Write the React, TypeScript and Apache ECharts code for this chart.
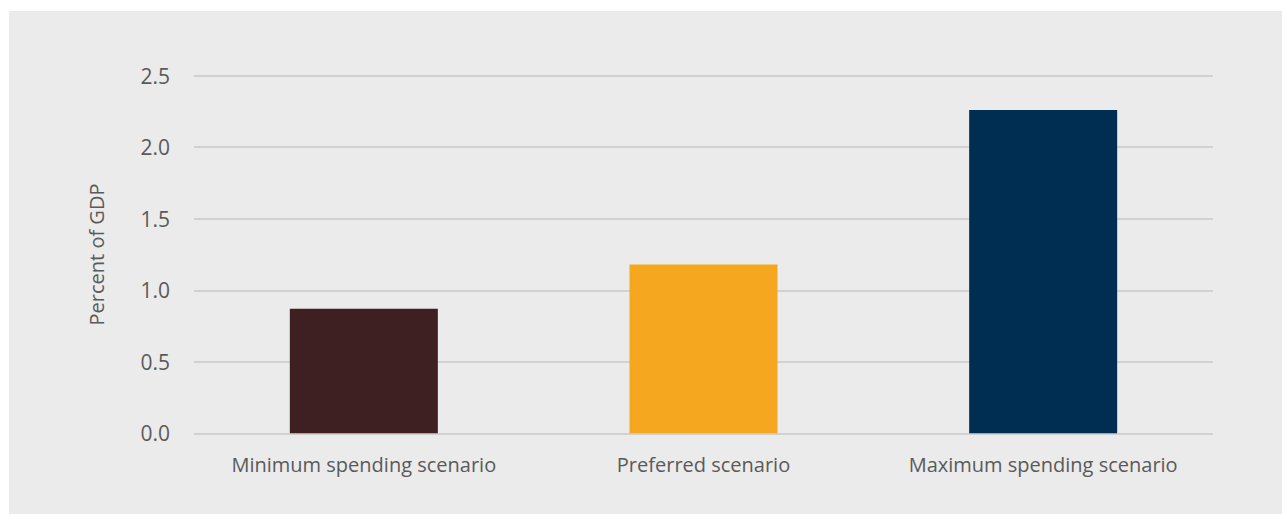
import React, { useEffect, useRef } from "react";
import * as echarts from "echarts";

const categories = ["Minimum spending scenario", "Preferred scenario", "Maximum spending scenario"];
const values = [0.87, 1.18, 2.26];
const barColors = ["#3e2022", "#f5a81f", "#002d52"];
const yTicks = { min: 0, max: 2.5, interval: 0.5 };

export default function App() {
  const ref = useRef<HTMLDivElement>(null);
  useEffect(() => {
    const chart = echarts.init(ref.current!, null, { renderer: "svg" });
    const font = "'Open Sans', Lato, sans-serif";
    chart.setOption({
      animation: false,
      backgroundColor: "#ffffff",
      graphic: [
        { type: "rect", z: -10, shape: { x: 9, y: 11, width: 1273, height: 503 }, style: { fill: "#ebebeb" } },
      ],
      grid: { left: 194, right: 69, top: 75.7, bottom: 81.7, containLabel: false },
      xAxis: {
        type: "category",
        data: categories,
        axisLine: { show: false },
        axisTick: { show: false },
        axisLabel: { interval: 0, hideOverlap: false, color: "#5a5a5a", fontSize: 20, fontWeight: 400, fontFamily: font, margin: 21 },
      },
      yAxis: {
        type: "value",
        min: yTicks.min,
        max: yTicks.max,
        interval: yTicks.interval,
        name: "Percent of GDP",
        nameLocation: "middle",
        nameGap: 88,
        nameTextStyle: { color: "#5a5a5a", fontSize: 20, fontWeight: 400, fontFamily: font },
        axisLine: { show: false },
        axisTick: { show: false },
        axisLabel: {
          color: "#5a5a5a",
          fontSize: 21,
          fontWeight: 400,
          fontFamily: font,
          margin: 24,
          formatter: (v: number) => v.toFixed(1),
        },
        splitLine: { lineStyle: { color: "#c8c8c8", width: 1.5 } },
      },
      series: [
        {
          type: "bar",
          barWidth: 148,
          data: values.map((v, i) => ({ value: v, itemStyle: { color: barColors[i] } })),
        },
      ],
    });
    return () => chart.dispose();
  }, []);
  return (
    <div style={{ position: "fixed", left: 0, top: 0, width: 1282, height: 515 }}>
      <div ref={ref} style={{ width: 1282, height: 515 }} />
    </div>
  );
}
